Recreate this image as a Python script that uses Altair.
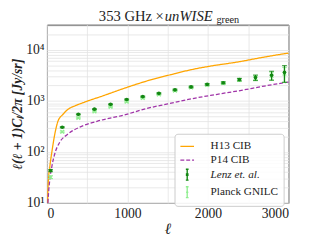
import altair as alt
import pandas as pd

# ---- data ----
SERIES = ["H13 CIB", "P14 CIB", "Lenz et. al.", "Planck GNILC"]
COLORS = ["#ffa500", "#a034a8", "#128712", "#90ee90"]

H13_ELL = [8, 16, 36, 64, 97, 137, 197, 266, 350, 468, 700, 1000, 1234, 1536, 1800, 2000, 2383, 2700, 3000]
H13_VAL = [10, 25, 52, 107, 221, 400, 540, 690, 800, 944, 1260, 1850, 2430, 3250, 4100, 4700, 5820, 7200, 8630]

P14_ELL = [12, 20, 36, 64, 97, 157, 257, 451, 629, 952, 1234, 1500, 1800, 2100, 2400, 2700, 3000]
P14_VAL = [10, 16, 29, 55, 92, 153, 221, 326, 400, 525, 705, 870, 1100, 1330, 1590, 1950, 2330]

BIN_ELL = [45, 190, 390, 590, 790, 990, 1190, 1390, 1590, 1790, 1990, 2190, 2390, 2590, 2790, 2950]
LENZ_VAL = [43, 304, 543, 687, 855, 1064, 1211, 1400, 1644, 1875, 2100, 2260, 2610, 2850, 3160, 3600]
LENZ_ERR = [2, 8, 12, 15, 18, 25, 30, 40, 50, 60, 70, 90, 140, 350, 630, 1300]
PLANCK_VAL = [32, 247, 462, 620, 760, 960, 1130, 1330, 1580, 1820, 2050, 2220, 2570, 2800, 3100, 3400]
PLANCK_ERR = [2, 8, 12, 15, 18, 25, 30, 40, 50, 60, 80, 100, 150, 300, 550, 1100]

X_TICKS = [0, 500, 1000, 1500, 2000, 2500, 3000]
Y_GRID = [m * 10 ** k for k in range(1, 4) for m in range(1, 10)] + [10000, 20000, 30000]

FONT = "Liberation Serif"

curves = pd.DataFrame({
    "ell": H13_ELL + P14_ELL,
    "val": H13_VAL + P14_VAL,
    "series": [SERIES[0]] * len(H13_ELL) + [SERIES[1]] * len(P14_ELL),
})


def points(vals, errs, name):
    return pd.DataFrame({
        "ell": BIN_ELL,
        "val": vals,
        "lo": [v - e for v, e in zip(vals, errs)],
        "hi": [v + e for v, e in zip(vals, errs)],
        "series": name,
    })


lenz = points(LENZ_VAL, LENZ_ERR, SERIES[2])
planck = points(PLANCK_VAL, PLANCK_ERR, SERIES[3])
legend_rows = pd.DataFrame({"series": SERIES})

X = alt.X("ell:Q", scale=alt.Scale(domain=[0, 3000], nice=False),
          axis=alt.Axis(values=X_TICKS, title="ℓ", titleFontStyle="italic",
                        titleFontSize=16, titlePadding=0, format="d"))

label_expr = ("datum.value == 10 ? '10¹' : datum.value == 100 ? '10²' : "
              "datum.value == 1000 ? '10³' : datum.value == 10000 ? '10⁴' : ''")
YSCALE = alt.Scale(type="log", domain=[10, 31000], nice=False)


def yenc(field):
    return alt.Y(f"{field}:Q", scale=YSCALE,
                 axis=alt.Axis(values=Y_GRID, labelExpr=label_expr, labelOverlap=False,
                               title="ℓ(ℓ + 1)Cₗ/2π  [Jy/sr]", titleFontStyle="italic",
                               titleFontSize=14, titlePadding=1))


COLOR = alt.Color("series:N", scale=alt.Scale(domain=SERIES, range=COLORS),
                  legend=alt.Legend(orient="none", legendX=131, legendY=112, title=None,
                                    labelFont=FONT, labelFontSize=11.5, labelColor="#222",
                                    labelFontStyle={"expr": "datum.label == 'Lenz et. al.' ? 'italic' : 'normal'"},
                                    symbolSize=196, symbolStrokeWidth=1.4, symbolOpacity=1,
                                    labelOffset=16, rowPadding=0, padding=5,
                                    fillColor="rgba(255,255,255,0.85)", strokeColor="#cccccc",
                                    cornerRadius=3))

SHAPES = ["M-1,0L1,0", "M-1,0L1,0",
          "M0,-0.8L0,0.8M-0.2,-0.8L0.2,-0.8M-0.2,0.8L0.2,0.8M-0.1,-0.1L0.1,-0.1L0.1,0.1L-0.1,0.1Z",
          "M0,-0.8L0,0.8M-0.2,-0.8L0.2,-0.8M-0.2,0.8L0.2,0.8M-0.12,-0.12L0.12,0.12M-0.12,0.12L0.12,-0.12"]
DASHES = [[1, 0], [4, 2], [1, 0], [1, 0]]

legend_layer = alt.Chart(legend_rows).mark_point(filled=False, opacity=0).encode(
    color=COLOR,
    shape=alt.Shape("series:N", scale=alt.Scale(domain=SERIES, range=SHAPES)),
    strokeDash=alt.StrokeDash("series:N", scale=alt.Scale(domain=SERIES, range=DASHES)),
)

lines = alt.Chart(curves).mark_line(strokeWidth=1.3, interpolate="monotone").encode(
    x=X, y=yenc("val"), color=COLOR,
    strokeDash=alt.StrokeDash("series:N", scale=alt.Scale(domain=SERIES, range=DASHES)),
)


def errlayers(df, marker):
    base = alt.Chart(df)
    rule = base.mark_rule(strokeWidth=1.3).encode(x=X, y=yenc("lo"), y2="hi:Q", color=COLOR)
    cap_lo = base.mark_tick(orient="horizontal", size=5, thickness=1.2).encode(x=X, y=yenc("lo"), color=COLOR)
    cap_hi = base.mark_tick(orient="horizontal", size=5, thickness=1.2).encode(x=X, y=yenc("hi"), color=COLOR)
    return [rule, cap_lo, cap_hi, marker.encode(x=X, y=yenc("val"), color=COLOR)]


planck_marker = alt.Chart(planck).mark_point(shape="M-1,-1L1,1M-1,1L1,-1", size=14,
                                             strokeWidth=1.2, filled=False, opacity=1)
lenz_marker = alt.Chart(lenz).mark_circle(size=14, opacity=1)

one = alt.Data(values=[{}])
t1 = alt.Chart(one).mark_text(text="353 GHz ×", align="right", baseline="alphabetic",
                              font=FONT, fontSize=15, color="#222").encode(
    x=alt.value(120), y=alt.value(-4))
t2 = alt.Chart(one).mark_text(text="unWISE", align="left", baseline="alphabetic",
                              font=FONT, fontSize=15, fontStyle="italic", color="#222").encode(
    x=alt.value(121), y=alt.value(-4))
t3 = alt.Chart(one).mark_text(text="green", align="left", baseline="alphabetic",
                              font=FONT, fontSize=10.5, color="#222").encode(
    x=alt.value(174), y=alt.value(-2))

chart = alt.layer(
    legend_layer, lines,
    *errlayers(planck, planck_marker),
    *errlayers(lenz, lenz_marker),
    t1, t2, t3,
).properties(
    width=248, height=183,
    autosize=alt.AutoSizeParams(type="none"),
    padding={"left": 40, "top": 14, "right": 19, "bottom": 38},
).configure_view(
    stroke="#333333", strokeWidth=1
).configure_axis(
    labelFont=FONT, titleFont=FONT, labelFontSize=14, labelColor="#222", titleColor="#222",
    grid=True, gridColor="#e3e3e3", gridWidth=0.8, domain=False, ticks=False, labelPadding=3,
).configure_axisX(labelPadding=4)

chart.save("out.html", embed_options={"renderer": "svg", "actions": False})
